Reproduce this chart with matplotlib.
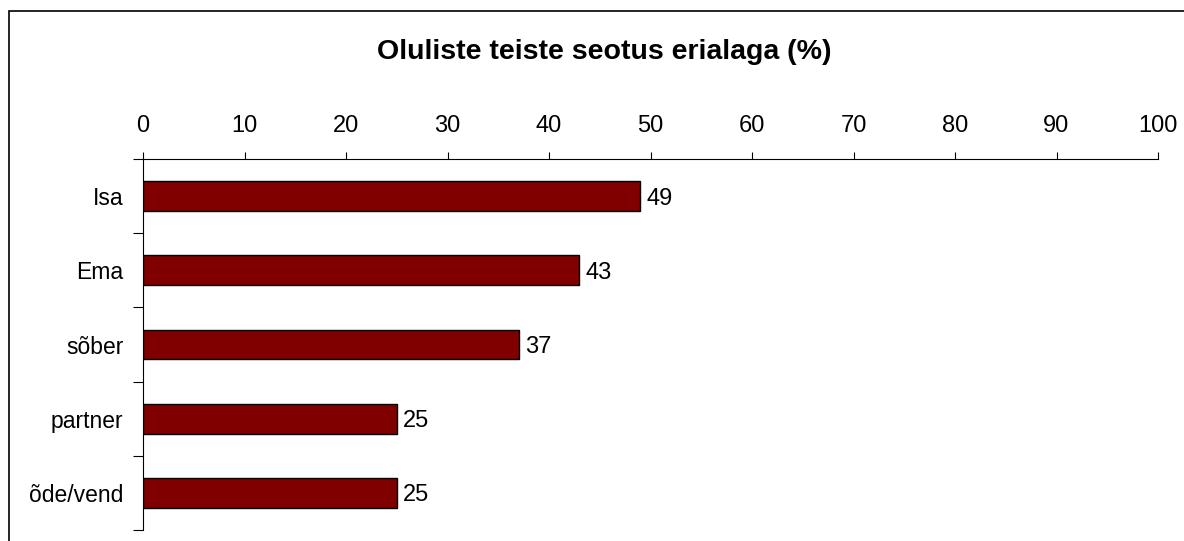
import numpy as np
import matplotlib
matplotlib.use('Agg')
import matplotlib.pyplot as plt
from matplotlib.patches import Rectangle

plt.rcParams['font.family'] = ['Liberation Sans', 'DejaVu Sans']

categories = ['Isa', 'Ema', 'sõber', 'partner', 'õde/vend']
values = [49, 43, 37, 25, 25]
xticks = list(range(0, 101, 10))

W, H = 1184, 541
fig = plt.figure(figsize=(W / 100, H / 100), dpi=100)

# outer chart frame (cut off on right and bottom)
fig.patches.append(Rectangle((9 / W, -0.1), 1.2, (H - 11) / H + 0.1,
                             transform=fig.transFigure, fill=False,
                             edgecolor='black', linewidth=1.2))

ax = fig.add_axes([143 / W, (H - 530) / H, (1158 - 143) / W, (530 - 159) / H])
y = np.arange(len(categories))
ax.barh(y, values, height=0.4, color='#800000', edgecolor='black', linewidth=1)
for yi, v in zip(y, values):
    ax.text(v + 0.6, yi, str(v), va='center_baseline', ha='left', fontsize=17)

ax.set_xlim(0, 100)
ax.set_ylim(len(categories) - 0.5, -0.5)
ax.xaxis.tick_top()
ax.set_xticks(xticks)
ax.tick_params(axis='x', direction='out', length=5, pad=11, labelsize=17, width=0.8)
ax.set_yticks(y)
ax.set_yticklabels(categories)
ax.set_yticks(np.arange(-0.5, len(categories), 1), minor=True)
ax.tick_params(axis='y', which='major', length=0, pad=14, labelsize=16.5)
ax.tick_params(axis='y', which='minor', direction='out', length=7, width=0.8)
for s in ['right', 'bottom']:
    ax.spines[s].set_visible(False)
for s in ['left', 'top']:
    ax.spines[s].set_linewidth(0.8)

fig.text((372 + 836) / 2 / W, 1 - 52 / H, 'Oluliste teiste seotus erialaga (%)',
         ha='center', va='center', fontsize=20.5, fontweight='bold')

fig.savefig('out.png', dpi=100)
